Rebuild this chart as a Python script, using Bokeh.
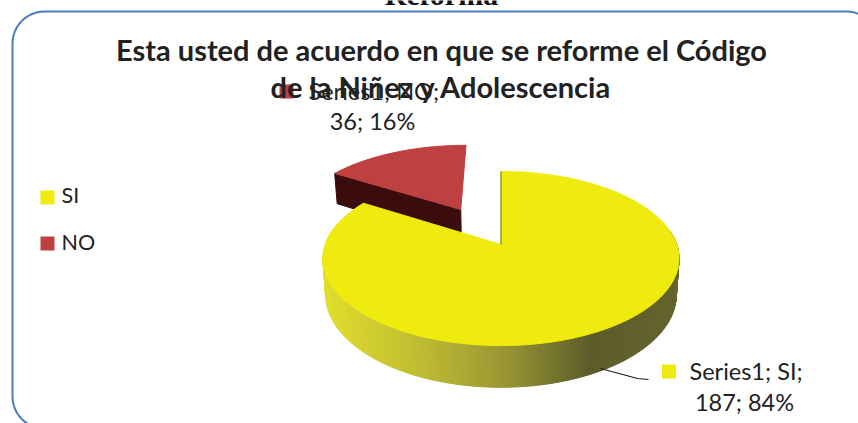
import math
from bokeh.plotting import figure
from bokeh.embed import file_html
from bokeh.resources import INLINE
from bokeh.core.properties import value
from bokeh.models import Range1d

categories = ["SI", "NO"]
series_name = "Series1"
values = [187, 36]
percents = [84, 16]
slice_colors = ["#F0EB0E", "#BE4040"]
title_lines = ["Esta usted de acuerdo en que se reforme el Código",
               "de la Niñez y Adolescencia"]
page_heading = "Reforma"

W, H = 858, 423
p = figure(width=W, height=H, output_backend="svg", toolbar_location=None,
           x_range=Range1d(0, 858), y_range=Range1d(423, 0),
           min_border=0, outline_line_color=None, background_fill_color="white",
           border_fill_color=None)
p.xaxis.visible = False
p.yaxis.visible = False
p.grid.visible = False

FONT = value("Lato")

# rounded frame
fx0, fy0, fx1, fy1, fr = 12, 11, 878, 428, 32
fxs, fys = [], []
for cx, cy, a0 in [(fx1 - fr, fy0 + fr, -90), (fx1 - fr, fy1 - fr, 0),
                   (fx0 + fr, fy1 - fr, 90), (fx0 + fr, fy0 + fr, 180)]:
    for i in range(13):
        a = math.radians(a0 + 90 * i / 12)
        fxs.append(cx + fr * math.cos(a))
        fys.append(cy + fr * math.sin(a))
fxs.append(fxs[0]); fys.append(fys[0])
p.line(fxs, fys, line_color="#4A7EBB", line_width=2)

# projected pie geometry
OX, OY, A, B, K, DEPTH, EXPLODE = 500.5, 244, 175.7, 84.8, 0.161, 35, 0.505


def proj(wx, wy, drop=0.0):
    d = 1 + K * wy
    sx = A * wx / d
    if drop:
        sx *= 0.985
    return OX + sx, OY - B * wy / d + drop / d


def rim(theta, off=(0, 0), drop=0.0):
    return proj(off[0] + math.sin(theta), off[1] + math.cos(theta), drop)


total = sum(values)
si_sweep = 2 * math.pi * values[0] / total
no_sweep = 2 * math.pi * values[1] / total
mid = si_sweep + no_sweep / 2
off = (EXPLODE * math.sin(mid), EXPLODE * math.cos(mid))
th_si = [si_sweep * i / 160 for i in range(161)]
th_no = [si_sweep + no_sweep * i / 40 for i in range(41)]

# exploded slice: front cut wall + top
ax, ay = proj(off[0], off[1])
axb, ayb = proj(off[0], off[1], DEPTH)
lx, ly = rim(si_sweep, off)
lxb, lyb = rim(si_sweep, off, DEPTH)
p.patch([ax, lx, lxb, axb], [ay, ly, lyb, ayb], fill_color="#3A0C0E", line_color="#3A0C0E")
pts = [rim(t, off) for t in th_no]
p.patch([ax] + [q[0] for q in pts], [ay] + [q[1] for q in pts],
        fill_color=slice_colors[1], line_color=slice_colors[1])

# big slice: side wall with gradient
stops = [(323, (226, 222, 44)), (420, (190, 187, 50)), (500, (155, 152, 52)),
         (590, (92, 92, 42)), (680, (100, 100, 44))]


def shade(x):
    for (x0, c0), (x1, c1) in zip(stops, stops[1:]):
        if x <= x1:
            f = max(0, (x - x0) / (x1 - x0))
            return "#%02x%02x%02x" % tuple(round(u + (v - u) * f) for u, v in zip(c0, c1))
    return "#%02x%02x%02x" % stops[-1][1]


wall_x, wall_y, wall_c = [], [], []
n = 240
t0, t1 = math.radians(80), math.radians(284)
for i in range(n):
    a = t0 + (t1 - t0) * i / n
    b = t0 + (t1 - t0) * (i + 1) / n
    q1, q2, q3, q4 = rim(a), rim(b), rim(b, drop=DEPTH), rim(a, drop=DEPTH)
    wall_x.append([q1[0], q2[0], q3[0], q4[0]])
    wall_y.append([q1[1], q2[1], q3[1], q4[1]])
    wall_c.append(shade((q1[0] + q2[0]) / 2))
p.patches(wall_x, wall_y, fill_color=wall_c, line_color=wall_c, line_width=1)

# big slice: top
ox, oy = proj(0, 0)
pts = [rim(t) for t in th_si]
p.patch([ox] + [q[0] for q in pts], [oy] + [q[1] for q in pts],
        fill_color=slice_colors[0], line_color=slice_colors[0])
p.line([pts[0][0], ox], [pts[0][1], oy], line_color="#6A6A2A", line_width=1)

# leader line of the SI label
p.line([600, 637, 648], [368, 378, 379], line_color="#1A1A1A", line_width=1.2)

# heading (clipped at the top of the picture)
p.text([441], [-6], text=[page_heading], text_font=value("Liberation Serif"),
       text_font_style="bold", text_font_size="30px", text_color="#111111",
       text_align="center", text_baseline="alphabetic")

# data labels
p.rect([668.5, 286], [371, 91], width=14, height=14, fill_color=slice_colors, line_color=None)
for cat, v, pc, cx1, y1, tx, ty in zip(categories, values, percents,
                                       [689, 308], [370, 90], [744, 372], [401, 120]):
    p.text([cx1], [y1], text=[f"{series_name}; {cat};"], text_font=FONT, text_font_size="23.5px",
           text_color="#222222", text_align="left", text_baseline="middle")
    p.text([tx], [ty], text=[f"{v}; {pc}%"], text_font=FONT, text_font_size="23.5px",
           text_color="#222222", text_align="center", text_baseline="middle")

# title
p.text([441, 441], [49, 86], text=title_lines, text_font=FONT, text_font_style="bold",
       text_font_size="29px", text_color="#222222", text_align="center", text_baseline="middle")

# legend
p.rect([47, 47], [197, 243], width=14, height=14, fill_color=slice_colors, line_color=None)
p.text([61, 61], [194, 241], text=categories, text_font=FONT, text_font_size="21.5px",
       text_color="#222222", text_align="left", text_baseline="middle")

open("out.html", "w").write(file_html(p, INLINE))
